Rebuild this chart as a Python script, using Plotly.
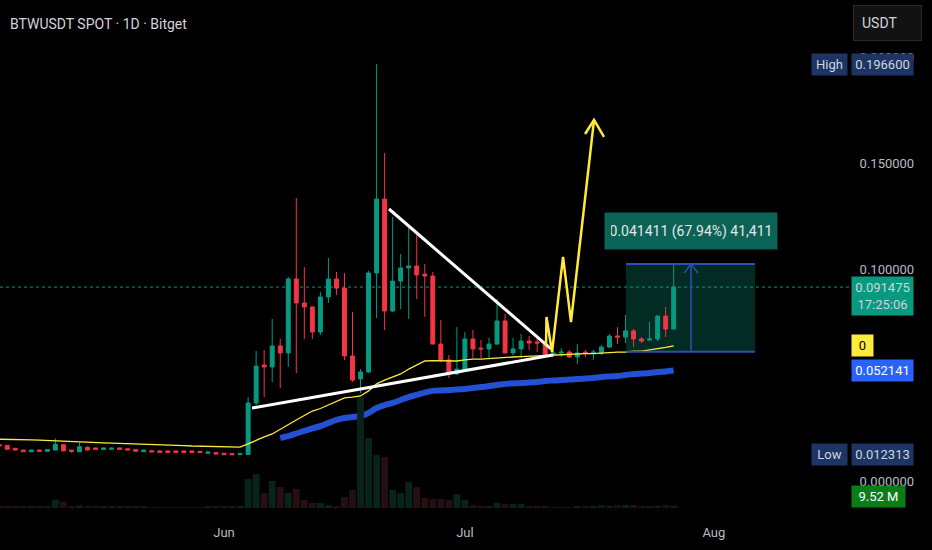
# BTWUSDT daily candles with volume, two moving averages and chart drawings

import pandas as pd
import plotly.graph_objects as go

# ---- data ----
dates = pd.date_range("2025-05-04", "2025-07-27", freq="D")

opens = [0.0172, 0.0168, 0.0154, 0.0146, 0.0138, 0.0146, 0.0140, 0.0146, 0.0171, 0.0146,
         0.0138, 0.0159, 0.0156, 0.0149, 0.0150, 0.0156, 0.0152, 0.0149, 0.0138, 0.0143,
         0.0142, 0.0142, 0.0142, 0.0142, 0.0142, 0.0140, 0.0131, 0.0134, 0.0131, 0.0129,
         0.0124,
         0.0125, 0.0368, 0.0547, 0.0538, 0.0637, 0.0604, 0.0953, 0.0840, 0.0821, 0.0703,
         0.0868, 0.0953, 0.0910, 0.0590, 0.0481, 0.0514, 0.0981, 0.1330, 0.0802, 0.0943,
         0.1005, 0.1014, 0.0976, 0.0967, 0.0646, 0.0571, 0.0505,
         0.0528, 0.0670, 0.0627, 0.0623, 0.0646, 0.0755, 0.0604, 0.0623, 0.0660, 0.0656,
         0.0646, 0.0594, 0.0604, 0.0608, 0.0585, 0.0608, 0.0604, 0.0604, 0.0632, 0.0684,
         0.0679, 0.0708, 0.0670, 0.0665, 0.0670, 0.0778, 0.0717]
highs = [0.0174, 0.0170, 0.0156, 0.0147, 0.0148, 0.0147, 0.0151, 0.0201, 0.0174, 0.0147,
         0.0181, 0.0163, 0.0157, 0.0157, 0.0157, 0.0157, 0.0153, 0.0150, 0.0148, 0.0144,
         0.0143, 0.0143, 0.0143, 0.0143, 0.0143, 0.0141, 0.0139, 0.0135, 0.0132, 0.0130,
         0.0131,
         0.0396, 0.0613, 0.0618, 0.0764, 0.0670, 0.0962, 0.1335, 0.1009, 0.0821, 0.0892,
         0.1052, 0.0986, 0.0981, 0.0797, 0.0528, 0.0991, 0.1966, 0.1547, 0.1245, 0.1071,
         0.1203, 0.1160, 0.1024, 0.0986, 0.0759, 0.0594, 0.0726,
         0.0703, 0.0712, 0.0665, 0.0675, 0.0858, 0.0788, 0.0675, 0.0693, 0.0684, 0.0675,
         0.0651, 0.0618, 0.0627, 0.0618, 0.0646, 0.0618, 0.0618, 0.0641, 0.0693, 0.0726,
         0.0783, 0.0717, 0.0679, 0.0750, 0.0783, 0.0821, 0.1024]
lows = [0.0163, 0.0148, 0.0145, 0.0137, 0.0137, 0.0138, 0.0138, 0.0145, 0.0141, 0.0134,
        0.0137, 0.0145, 0.0148, 0.0148, 0.0149, 0.0148, 0.0145, 0.0139, 0.0137, 0.0136,
        0.0134, 0.0134, 0.0134, 0.0134, 0.0133, 0.0133, 0.0130, 0.0126, 0.0124, 0.0124,
        0.0124,
        0.012313, 0.0349, 0.0396, 0.0467, 0.0439, 0.0538, 0.0509, 0.0670, 0.0670, 0.0689,
        0.0840, 0.0877, 0.0571, 0.0467, 0.0415, 0.0509, 0.0769, 0.0712, 0.0797, 0.0811,
        0.0764, 0.0858, 0.0774, 0.0646, 0.0561, 0.0486, 0.0500,
        0.0524, 0.0580, 0.0580, 0.0580, 0.0642, 0.0604, 0.0594, 0.0580, 0.0618, 0.0608,
        0.0590, 0.0585, 0.0585, 0.0580, 0.0552, 0.0585, 0.0571, 0.0594, 0.0627, 0.0646,
        0.0651, 0.0632, 0.0651, 0.0660, 0.0660, 0.0679, 0.0717]
closes = [0.0165, 0.0150, 0.0146, 0.0138, 0.0146, 0.0140, 0.0149, 0.0173, 0.0142, 0.0140,
          0.0162, 0.0146, 0.0149, 0.0156, 0.0155, 0.0149, 0.0146, 0.0140, 0.0146, 0.0137,
          0.0135, 0.0135, 0.0135, 0.0135, 0.0134, 0.0134, 0.0137, 0.0127, 0.0124, 0.0124,
          0.0129,
          0.0368, 0.0542, 0.0538, 0.0637, 0.0604, 0.0953, 0.0840, 0.0821, 0.0703, 0.0868,
          0.0953, 0.0910, 0.0590, 0.0476, 0.0514, 0.0981, 0.1330, 0.0802, 0.0943, 0.1005,
          0.1014, 0.0972, 0.0967, 0.0646, 0.0571, 0.0505, 0.0528,
          0.0670, 0.0623, 0.0623, 0.0646, 0.0755, 0.0604, 0.0623, 0.0660, 0.0651, 0.0651,
          0.0594, 0.0604, 0.0608, 0.0585, 0.0604, 0.0604, 0.0608, 0.0632, 0.0684, 0.0679,
          0.0708, 0.0670, 0.0660, 0.0670, 0.0778, 0.0717, 0.091475]

# volume in millions
volume_m = [6, 5, 6, 5, 5, 5, 6, 34, 26, 5, 11, 9, 5, 5, 5, 5, 5, 5, 5, 4,
            4, 4, 4, 4, 4, 4, 5, 6, 6, 5, 6,
            119, 139, 62, 111, 86, 62, 78, 33, 21, 21, 12, 8, 45, 74, 455, 287, 217, 209,
            74, 62, 107, 86, 41, 37, 37, 33, 57,
            33, 12, 8, 8, 21, 16, 16, 16, 8, 8, 8, 4, 4, 4, 8, 8, 8, 12, 8, 12,
            12, 12, 8, 8, 8, 12, 9.52]

# thin yellow average, one value per candle
ma_yellow = [0.0197, 0.0197, 0.0196, 0.0195, 0.0194, 0.0193, 0.0191, 0.0190, 0.0189, 0.0187,
             0.0185, 0.0183, 0.0182, 0.0180, 0.0179, 0.0178, 0.0176, 0.0175, 0.0174, 0.0173,
             0.0171, 0.0170, 0.0168, 0.0167, 0.0165, 0.0164, 0.0163, 0.0162, 0.0161, 0.0160,
             0.0160,
             0.0175, 0.0193, 0.0208, 0.0222, 0.0245, 0.0264, 0.0288, 0.0309, 0.0330, 0.0342,
             0.0358, 0.0377, 0.0392, 0.0396, 0.0401, 0.0425, 0.0458, 0.0476, 0.0491, 0.0505,
             0.0528, 0.0547, 0.0566, 0.0568, 0.0568, 0.0568, 0.0566,
             0.0571, 0.0575, 0.0575, 0.0578, 0.0580, 0.0585, 0.0585, 0.0587, 0.0590, 0.0590,
             0.0592, 0.0594, 0.0594, 0.0599, 0.0599, 0.0601, 0.0601, 0.0604, 0.0604, 0.0608,
             0.0608, 0.0613, 0.0613, 0.0618, 0.0623, 0.0630, 0.0637]

# thick blue average, starts on 2025-06-08
ma_blue_start = "2025-06-08"
ma_blue = [0.0203, 0.0212, 0.0224, 0.0236, 0.0248, 0.0259, 0.0274, 0.0288, 0.0297, 0.0302,
           0.0307, 0.0321, 0.0344, 0.0358, 0.0368, 0.0382, 0.0396, 0.0406, 0.0417, 0.0425,
           0.0427, 0.0429, 0.0432,
           0.0434, 0.0439, 0.0443, 0.0448, 0.0453, 0.0458, 0.0460, 0.0462, 0.0465, 0.0467,
           0.0472, 0.0474, 0.0476, 0.0479, 0.0481, 0.0483, 0.0486, 0.0491, 0.0493, 0.0495,
           0.0500, 0.0505, 0.0507, 0.0509, 0.0514, 0.0517, 0.0521]

# drawings: days after 2025-06-01, price
origin = pd.Timestamp("2025-06-01")
upper_trend_days = [20.55, 40.72]
upper_trend_px = [0.1283, 0.0623]
lower_trend_days = [3.49, 40.97]
lower_trend_px = [0.0344, 0.0594]
zigzag_days = [40.10, 40.16, 40.85, 42.22, 43.21, 46.08]
zigzag_px = [0.0642, 0.0774, 0.0608, 0.1057, 0.0750, 0.1703]
zigzag_head_days = [44.96, 46.08, 47.32]
zigzag_head_px = [0.1637, 0.1703, 0.1623]

# price range measure
measure_days = [50.06, 66.13]
measure_arrow_day = 58.16
measure_low = 0.060952
measure_high = 0.102363
measure_text = "0.041411 (67.94%) 41,411"
measure_text_px = 0.1179

last_price = 0.091475
countdown = "17:25:06"
high_value = max(highs)
low_value = min(lows)

price_ticks = [0.0, 0.10, 0.15, 0.20]
month_ticks = ["2025-06-01", "2025-07-01", "2025-08-01"]
month_labels = ["Jun", "Jul", "Aug"]

# ---- styling ----
GREEN = "#089981"
RED = "#f23645"
YELLOW = "#ffeb3b"
BLUE = "#2450d4"
LABEL_BLUE = "#2962ff"
NAVY = "#1c3564"
TEXT = "#d1d4dc"
AXIS_TEXT = "#b8bcc4"
FONT = "Roboto"


def day(d):
    return origin + pd.Timedelta(days=d)


fig = go.Figure()

# volume (own overlay axis, behind everything)
vol_colors = ["#08241a" if c >= o else "#241014" for o, c in zip(opens, closes)]
fig.add_trace(go.Bar(
    x=dates, y=volume_m, yaxis="y2",
    marker=dict(color=vol_colors, line=dict(width=0)),
    width=0.85 * 86400000, hoverinfo="skip"
))

# candles
fig.add_trace(go.Candlestick(
    x=dates, open=opens, high=highs, low=lows, close=closes,
    increasing=dict(line=dict(color=GREEN, width=1), fillcolor=GREEN),
    decreasing=dict(line=dict(color=RED, width=1), fillcolor=RED),
    whiskerwidth=0, hoverinfo="skip"
))

# moving averages
fig.add_trace(go.Scatter(
    x=dates, y=ma_yellow, mode="lines",
    line=dict(color=YELLOW, width=1.3), hoverinfo="skip"
))
blue_dates = pd.date_range(ma_blue_start, periods=len(ma_blue), freq="D")
fig.add_trace(go.Scatter(
    x=blue_dates, y=ma_blue, mode="lines",
    line=dict(color=BLUE, width=6, shape="spline"), hoverinfo="skip"
))

# trend lines
for days_, pxs in [(upper_trend_days, upper_trend_px), (lower_trend_days, lower_trend_px)]:
    fig.add_trace(go.Scatter(
        x=[day(d) for d in days_], y=pxs, mode="lines",
        line=dict(color="white", width=3), hoverinfo="skip"
    ))

# yellow zigzag arrow
fig.add_trace(go.Scatter(
    x=[day(d) for d in zigzag_days], y=zigzag_px, mode="lines",
    line=dict(color=YELLOW, width=2.5), hoverinfo="skip"
))
fig.add_trace(go.Scatter(
    x=[day(d) for d in zigzag_head_days], y=zigzag_head_px, mode="lines",
    line=dict(color=YELLOW, width=2.5), hoverinfo="skip"
))

# measure arrow
arrow_half = 0.87
fig.add_trace(go.Scatter(
    x=[day(measure_arrow_day)] * 2, y=[measure_low, measure_high], mode="lines",
    line=dict(color="#2b50b8", width=1.5), hoverinfo="skip"
))
fig.add_trace(go.Scatter(
    x=[day(measure_arrow_day - arrow_half), day(measure_arrow_day), day(measure_arrow_day + arrow_half)],
    y=[measure_high - 0.0043, measure_high, measure_high - 0.0043], mode="lines",
    line=dict(color="#2b50b8", width=1.5), hoverinfo="skip"
))

shapes = [
    dict(type="rect", xref="x", yref="y", layer="below",
         x0=day(measure_days[0]), x1=day(measure_days[1]), y0=measure_low, y1=measure_high,
         fillcolor="rgba(8,153,129,0.28)", line=dict(width=0)),
    dict(type="line", xref="x", yref="y",
         x0=day(measure_days[0]), x1=day(measure_days[1]), y0=measure_high, y1=measure_high,
         line=dict(color="#2b50b8", width=2)),
    dict(type="line", xref="x", yref="y",
         x0=day(measure_days[0]), x1=day(measure_days[1]), y0=measure_low, y1=measure_low,
         line=dict(color="#2b50b8", width=2)),
    dict(type="line", xref="paper", yref="y", layer="below",
         x0=0, x1=1, y0=last_price, y1=last_price,
         line=dict(color=GREEN, width=1, dash="dot")),
]


def axis_label(text, y, bg, color=TEXT, width=55, anchor="left", shift=1, yanchor="middle", yshift=0):
    return dict(xref="paper", yref="y", x=1, y=y, xanchor=anchor, yanchor=yanchor,
                xshift=shift, yshift=yshift, text=text, showarrow=False,
                bgcolor=bg, borderpad=3, width=width, align="center",
                font=dict(family=FONT, size=13, color=color))


annotations = [
    dict(xref="paper", yref="paper", x=0, y=1, xanchor="left", yanchor="middle",
         xshift=8, yshift=-24, text="BTWUSDT SPOT · 1D · Bitget", showarrow=False,
         font=dict(family=FONT, size=14, color=TEXT)),
    dict(xref="paper", yref="paper", x=1, y=1, xanchor="left", yanchor="top",
         xshift=3, yshift=-5, text="USDT", showarrow=False, align="left",
         bgcolor="#121212", bordercolor="#2a2a2a", borderwidth=1, borderpad=8,
         width=51, height=18, font=dict(family=FONT, size=14, color=TEXT)),
    axis_label("High", high_value, NAVY, width=29, anchor="right", shift=-2),
    axis_label(f"{high_value:.6f}", high_value, NAVY),
    axis_label(f"{last_price:.6f}<br>{countdown}", last_price, GREEN, yanchor="top", yshift=11),
    axis_label("0", ma_yellow[-1], YELLOW, color="#000000", width=15),
    axis_label("0.052141", ma_blue[-1], LABEL_BLUE, color="#ffffff"),
    axis_label("Low", low_value, NAVY, width=29, anchor="right", shift=-2),
    axis_label(f"{low_value:.6f}", low_value, NAVY),
    dict(xref="paper", yref="paper", x=1, y=0, xanchor="left", yanchor="middle",
         xshift=1, yshift=14, text=f"{volume_m[-1]:.2f} M", showarrow=False,
         bgcolor="#0b7d16", borderpad=3, width=47,
         font=dict(family=FONT, size=13, color="#ffffff")),
    dict(xref="x", yref="y", x=day(measure_arrow_day), y=measure_text_px,
         xanchor="center", yanchor="middle", text=measure_text, showarrow=False,
         bgcolor="#0a6356", borderpad=6, width=160, height=24,
         font=dict(family=FONT, size=14, color="#e6e6e6")),
]

fig.update_layout(
    width=932, height=550,
    margin=dict(l=0, r=82, t=0, b=40),
    paper_bgcolor="#000000", plot_bgcolor="#000000",
    showlegend=False, template="none",
    font=dict(family=FONT, color=AXIS_TEXT),
    xaxis=dict(
        range=["2025-05-04 02:24", "2025-08-17 23:00"],
        tickvals=month_ticks, ticktext=month_labels,
        ticks="outside", ticklen=10, tickcolor="rgba(0,0,0,0)",
        tickfont=dict(family=FONT, size=13, color=AXIS_TEXT),
        showgrid=False, zeroline=False, showline=False,
        rangeslider=dict(visible=False), fixedrange=True
    ),
    yaxis=dict(
        side="right", range=[-0.01368, 0.22689],
        tickvals=price_ticks, tickformat=".6f",
        ticks="outside", ticklen=6, tickcolor="rgba(0,0,0,0)",
        tickfont=dict(family=FONT, size=13, color=AXIS_TEXT),
        showgrid=False, zeroline=False, showline=False, fixedrange=True
    ),
    yaxis2=dict(overlaying="y", range=[-8.2, 2083], visible=False, fixedrange=True),
    shapes=shapes,
    annotations=annotations,
)

# drop the page's default body margin so the chart sits at the window corner
fig.write_html("out.html", config={"displayModeBar": False},
               post_script="document.body.style.margin='0';")
